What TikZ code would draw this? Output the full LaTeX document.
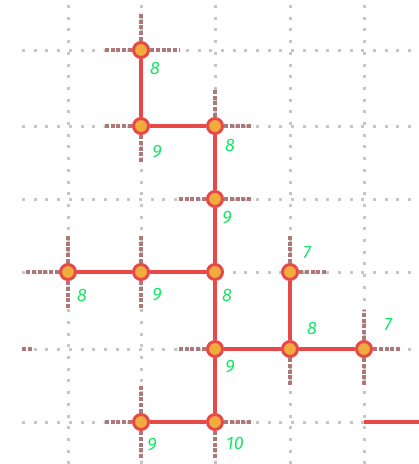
\documentclass[tikz,border=0pt]{standalone}
\usepackage{fontspec}
\setmainfont{Fira Sans}
\definecolor{redc}{RGB}{232,72,72}
\definecolor{orangec}{RGB}{240,172,60}
\definecolor{greenc}{RGB}{20,232,100}
\definecolor{stubc}{RGB}{175,120,120}
\begin{document}
\begin{tikzpicture}[x=1pt,y=-1pt,
  gridline/.style={draw=gray!45, line width=3pt, dash pattern=on 3pt off 8.7pt},
  stub/.style={draw=stubc, line width=3.2pt, dash pattern=on 4pt off 1.8pt},
  edge/.style={draw=redc, line width=3.5pt},
  vtx/.style={circle, fill=orangec, draw=redc, line width=3pt, minimum size=15pt, inner sep=0pt},
  lbl/.style={text=greenc, font=\fontsize{18}{18}\selectfont\itshape}]
\useasboundingbox (0,0) rectangle (419,464);
% grid
\foreach \x in {68,141,215,290,364} \draw[gridline] (\x,5) -- (\x,464);
\foreach \y in {50,126,199,272,349,422} \draw[gridline] (22,\y) -- (419,\y);
% vertices
\node[vtx] (a) at (141,50) {};
\node[vtx] (b) at (141,126) {};
\node[vtx] (c) at (215,126) {};
\node[vtx] (d) at (215,199) {};
\node[vtx] (e) at (68,272) {};
\node[vtx] (f) at (141,272) {};
\node[vtx] (g) at (215,272) {};
\node[vtx] (h) at (290,272) {};
\node[vtx] (i) at (215,349) {};
\node[vtx] (j) at (290,349) {};
\node[vtx] (k) at (364,349) {};
\node[vtx] (l) at (141,422) {};
\node[vtx] (m) at (215,422) {};
% stub ends
\coordinate (a1) at (141,12); \coordinate (a2) at (103,50); \coordinate (a3) at (180,50);
\coordinate (b1) at (103,126); \coordinate (b2) at (141,163);
\coordinate (c1) at (215,88); \coordinate (c2) at (253,126);
\coordinate (d1) at (177,199); \coordinate (d2) at (253,199);
\coordinate (e1) at (25,272); \coordinate (e2) at (68,235); \coordinate (e3) at (68,310);
\coordinate (f1) at (141,235); \coordinate (f2) at (141,310);
\coordinate (h1) at (290,235); \coordinate (h2) at (327,272);
\coordinate (i1) at (177,349);
\coordinate (j1) at (290,386);
\coordinate (k1) at (364,310); \coordinate (k2) at (402,349); \coordinate (k3) at (364,386);
\coordinate (l1) at (103,422); \coordinate (l2) at (141,384); \coordinate (l3) at (141,460);
\coordinate (m1) at (253,422); \coordinate (m2) at (215,460);
\coordinate (z1) at (22,349); \coordinate (z2) at (33,349);
\coordinate (r1) at (364,422); \coordinate (r2) at (419,422);
% stubs
\foreach \s/\t in {a/a1,a/a2,a/a3,b/b1,b/b2,c/c1,c/c2,d/d1,d/d2,e/e1,e/e2,e/e3,f/f1,f/f2,h/h1,h/h2,i/i1,j/j1,k/k1,k/k2,k/k3,l/l1,l/l2,l/l3,m/m1,m/m2}
  \draw[stub] (\s) -- (\t);
\draw[stub] (z1) -- (z2);
% red path edges
\foreach \s/\t in {a/b,b/c,c/d,d/g,g/i,i/m,e/f,f/g,i/j,j/k,h/j,l/m}
  \draw[edge] (\s) -- (\t);
\draw[edge] (r1) -- (r2);
% labels
\node[lbl] (la) at (155,68) {8};
\node[lbl] (lb) at (157,152) {9};
\node[lbl] (lc) at (230,145) {8};
\node[lbl] (ld) at (227,218) {9};
\node[lbl] (le) at (82,295) {8};
\node[lbl] (lf) at (157,295) {9};
\node[lbl] (lg) at (227,295) {8};
\node[lbl] (lh) at (307,253) {7};
\node[lbl] (li) at (230,367) {9};
\node[lbl] (lj) at (312,328) {8};
\node[lbl] (lk) at (388,325) {7};
\node[lbl] (ll) at (152,445) {9};
\node[lbl] (lm) at (235,443) {10};
\end{tikzpicture}
\end{document}
